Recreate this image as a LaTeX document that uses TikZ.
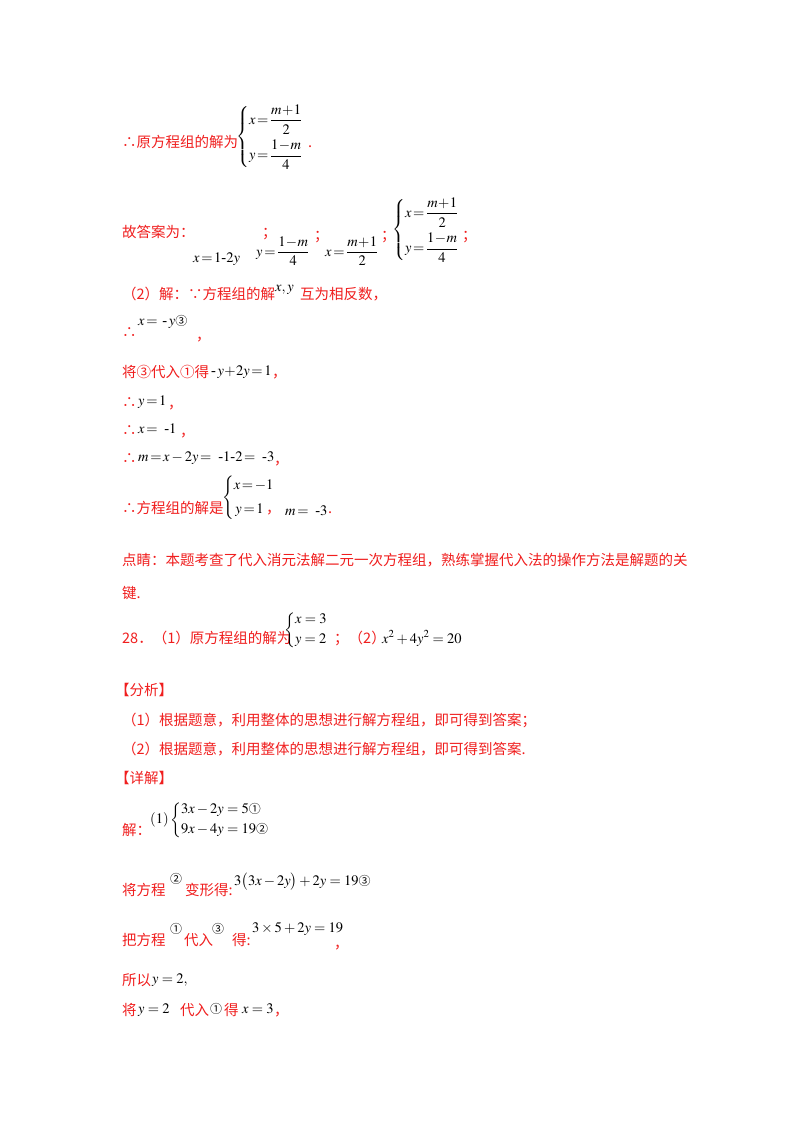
\documentclass[tikz,border=0pt]{standalone}
\usepackage{amsmath}
\usepackage{mathptmx}
\usepackage{fontspec}
\setmainfont{Liberation Serif}
\newfontfamily\cjk{Noto Sans CJK SC}
\definecolor{rd}{RGB}{240,30,30}
\newcommand{\zh}[1]{{\cjk\color{rd}#1}}
\newcommand{\cn}[1]{{\cjk\fontsize{12}{14}\selectfont #1}}
\begin{document}
\begin{tikzpicture}[x=1pt,y=-1pt,
  t/.style={anchor=base west,inner sep=0pt,font=\fontsize{14.5}{17}\selectfont},
  m/.style={anchor=base west,inner sep=0pt,font=\fontsize{14.5}{17}\selectfont}]
\useasboundingbox (0,0) rectangle (800,1132);
\fill[white] (0,0) rectangle (800,1132);
% block 1
\node[t] (a1) at (122,147) {\zh{∴原方程组的解为}};
\node[m,anchor=west] (a2) at (236,137) {$\left\{\begin{aligned}&x\!=\!\dfrac{m\!+\!1}{2}\\[2pt]&y\!=\!\dfrac{1\!-\!m}{4}\end{aligned}\right.$};
\node[t] (a3) at (308,147) {\zh{.}};
% block 2
\node[t] (b1) at (122,237) {\zh{故答案为：}};
\node[t] (b2) at (262,237) {\zh{；}};
\node[m] (b3) at (193,262) {$x\!=\!1\text{-}2y$};
\node[m] (b4) at (256,256) {$y\!=\!\dfrac{1\!-\!m}{4}$};
\node[t] (b5) at (314,240) {\zh{；}};
\node[m] (b6) at (325,256) {$x\!=\!\dfrac{m\!+\!1}{2}$};
\node[t] (b7) at (381,240) {\zh{；}};
\node[m,anchor=west] (b8) at (392,230) {$\left\{\begin{aligned}&x\!=\!\dfrac{m\!+\!1}{2}\\[2pt]&y\!=\!\dfrac{1\!-\!m}{4}\end{aligned}\right.$};
\node[t] (b9) at (462,240) {\zh{；}};
% block 3
\node[t] (c1) at (122,299) {\zh{（2）解：∵方程组的解}};
\node[m] (c2) at (275,291) {$x,y$};
\node[t] (c3) at (300,299) {\zh{互为相反数，}};
\node[t] (d1) at (122,337) {\zh{∴}};
\node[m] (d2) at (138,325) {$x\!=\,\text{-}\,y$\cn{③}};
\node[t] (d3) at (196,340) {\zh{，}};
\node[t] (e1) at (122,377) {\zh{将③代入①得}};
\node[m] (e2) at (211,375) {$\text{-}\,y\!+\!2y\!=\!1$};
\node[t] (e3) at (272,377) {\zh{，}};
\node[t] (f1) at (122,407) {\zh{∴}};
\node[m] (f2) at (138,405) {$y\!=\!1$};
\node[t] (f3) at (168,408) {\zh{，}};
\node[t] (g1) at (122,435) {\zh{∴}};
\node[m] (g2) at (138,433) {$x\!=\ \text{-}1$};
\node[t] (g3) at (180,436) {\zh{，}};
\node[t] (h1) at (122,463) {\zh{∴}};
\node[m] (h2) at (138,461) {$m\!=\!x-2y\!=\ \text{-}1\text{-}2\!=\ \text{-}3$};
\node[t] (h3) at (274,464) {\zh{，}};
\node[t] (i1) at (122,513) {\zh{∴方程组的解是}};
\node[m,anchor=west] (i2) at (222,498) {$\left\{\begin{aligned}&x\!=\!-1\\[4pt]&\,y\!=\!1\end{aligned}\right.$};
\node[t] (i3) at (266,513) {\zh{，}};
\node[m] (i4) at (285,515) {$m\!=\ \text{-}3$};
\node[t] (i5) at (328,513) {\zh{.}};
% remark
\node[t] (j1) at (122,565) {\zh{点睛：本题考查了代入消元法解二元一次方程组，熟练掌握代入法的操作方法是解题的关}};
\node[t] (j2) at (122,598) {\zh{键.}};
% 28
\node[t] (k1) at (122,643) {\zh{28．（1）原方程组的解为}};
\node[m,anchor=west] (k2) at (284,630) {$\left\{\begin{aligned}&x=3\\&y=2\end{aligned}\right.$};
\node[t] (k3) at (334,643) {\zh{；（2）}};
\node[m] (k4) at (382,643) {$x^2+4y^2=20$};
\node[t] (l1) at (115,695) {\zh{【分析】}};
\node[t] (l2) at (122,725) {\zh{（1）根据题意，利用整体的思想进行解方程组，即可得到答案；}};
\node[t] (l3) at (122,754) {\zh{（2）根据题意，利用整体的思想进行解方程组，即可得到答案.}};
\node[t] (l4) at (115,783) {\zh{【详解】}};
\node[t] (n1) at (122,835) {\zh{解：}};
\node[m,anchor=west] (n2) at (150,820) {$(1)\left\{\begin{aligned}&3x-2y=5\text{\cn{①}}\\&9x-4y=19\text{\cn{②}}\end{aligned}\right.$};
\node[t] (o1) at (122,895) {\zh{将方程}};
\node[m] (o2) at (170,883) {\cn{②}};
\node[t] (o3) at (185,895) {\zh{变形得:}};
\node[m] (o4) at (234,885) {$3\big(3x-2y\big)+2y=19$\cn{③}};
\node[t] (p1) at (122,945) {\zh{把方程}};
\node[m] (p2) at (170,933) {\cn{①}};
\node[t] (p3) at (184,945) {\zh{代入}};
\node[m] (p4) at (212,933) {\cn{③}};
\node[t] (p5) at (232,945) {\zh{得:}};
\node[m] (p6) at (252,932) {$3\times5+2y=19$};
\node[t] (p7) at (334,948) {\zh{，}};
\node[t] (q1) at (122,985) {\zh{所以}};
\node[m] (q2) at (152,983) {$y=2,$};
\node[t] (r1) at (122,1015) {\zh{将}};
\node[m] (r2) at (138,1013) {$y=2$};
\node[t] (r3) at (180,1015) {\zh{代入}};
\node[m] (r4) at (210,1013) {\cn{①}};
\node[t] (r5) at (224,1015) {\zh{得}};
\node[m] (r6) at (242,1013) {$x=3$};
\node[t] (r7) at (274,1015) {\zh{，}};
\end{tikzpicture}
\end{document}
